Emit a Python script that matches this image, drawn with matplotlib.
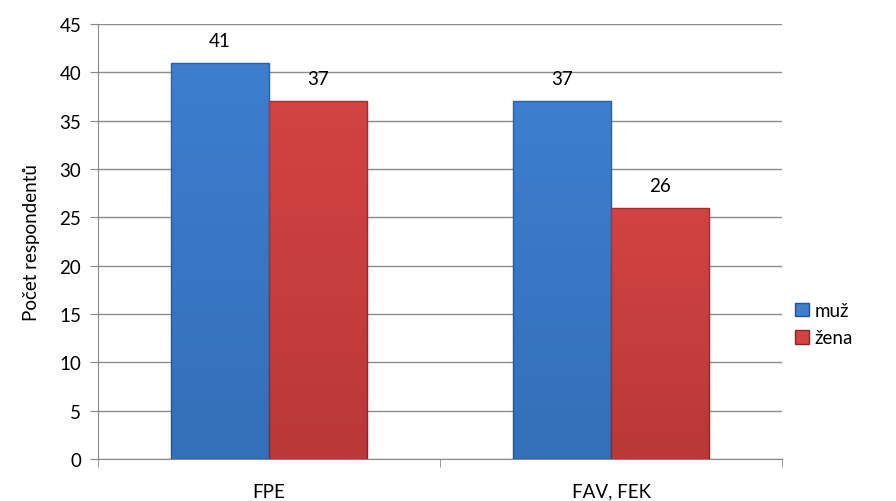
import numpy as np
import matplotlib
matplotlib.use("Agg")
import matplotlib.pyplot as plt
from matplotlib.patches import Patch

categories = ["FPE", "FAV, FEK"]
series_names = ["muž", "žena"]
muz = [41, 37]
zena = [37, 26]
y_ticks = [0, 5, 10, 15, 20, 25, 30, 35, 40, 45]

plt.rcParams['font.family'] = ['Lato', 'DejaVu Sans']

fig = plt.figure(figsize=(8.96, 5.02), dpi=100)
ax = fig.add_axes([0.1094, 0.0837, 0.7634, 0.8665])

x = np.arange(len(categories))
w = 0.287
colors = ["#3D7ECF", "#D24343"]
edges = ["#24538F", "#8E2424"]

for i, (vals, name) in enumerate(zip([muz, zena], series_names)):
    pos = x - w / 2 + i * w
    bars = ax.bar(pos, vals, width=w, color=colors[i], edgecolor=edges[i], linewidth=1.0, label=name, zorder=3)
    # lehky gradient na sloupcich
    for b in bars:
        bx, by = b.get_x(), b.get_y()
        bw, bh = b.get_width(), b.get_height()
        grad = np.linspace(0, 1, 50).reshape(-1, 1)
        cmap = matplotlib.colors.LinearSegmentedColormap.from_list(
            "g", [edges[i], colors[i]])
        im = ax.imshow(grad, extent=[bx, bx + bw, by, by + bh], origin="lower",
                       aspect="auto", cmap=cmap, alpha=0.35, zorder=3.5)
        im.set_clip_path(b)
        ax.annotate(str(int(bh)), (bx + bw / 2, bh), xytext=(0, 10), textcoords="offset points",
                    ha="center", va="bottom", fontsize=13.5, zorder=5)

ax.set_xlim(-0.5, 1.5)
ax.set_ylim(0, 45)
ax.set_yticks(y_ticks)
ax.set_xticks(x)
ax.set_xticklabels(categories)
ax.set_xticks([-0.5, 0.5, 1.5], minor=True)
ax.tick_params(axis="x", which="major", length=0, labelsize=13.5, pad=17)
ax.tick_params(axis="x", which="minor", length=6, color="#888888", direction="out")
ax.tick_params(axis="y", length=6, color="#888888", labelsize=13.5, pad=6)
ax.grid(axis="y", color="#8C8C8C", linewidth=1.0, zorder=0)
for s in ["top", "right"]:
    ax.spines[s].set_visible(False)
for s in ["left", "bottom"]:
    ax.spines[s].set_color("#888888")
ax.set_ylabel("Počet respondentů", fontsize=13.5, labelpad=14)

handles = [Patch(facecolor=colors[0], edgecolor=edges[0]), Patch(facecolor=colors[1], edgecolor=edges[1])]
ax.legend(handles, series_names, loc="center left", bbox_to_anchor=(1.005, 0.31), frameon=False,
          fontsize=13.5, handlelength=0.75, handleheight=0.75, handletextpad=0.3, labelspacing=0.55,
          borderpad=0)

fig.savefig("out.png", dpi=100)
